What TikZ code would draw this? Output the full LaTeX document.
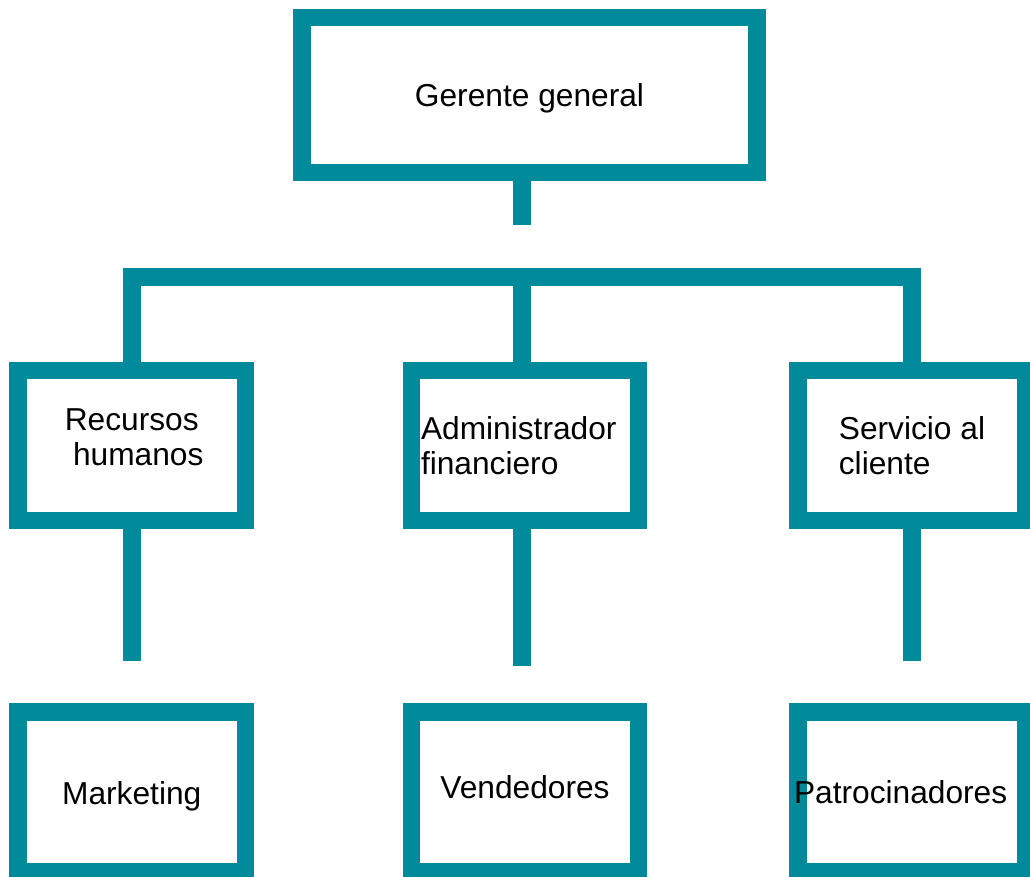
\documentclass[tikz,border=0pt]{standalone}
\usepackage{fontspec}
\setmainfont{Liberation Sans}
\usepackage{xcolor}
\usepackage{tikz}
\usetikzlibrary{calc}
\definecolor{corp}{HTML}{008A9A}
\definecolor{ink}{HTML}{000000}
\definecolor{paper}{HTML}{FFFFFF}
\tikzset{
  unit/.style={draw=corp, line width=17.5pt, inner sep=0pt, text=ink, font=\fontsize{31.7}{35}\selectfont},
  oneline/.style={text height=24pt, text depth=0pt},
  link/.style={draw=corp, line width=17.5pt, line cap=butt, line join=miter},
}

\begin{document}
\begin{tikzpicture}[x=1pt,y=-1pt]
  \fill[paper] (0,0) rectangle (1030,877);
  \useasboundingbox (0,0) rectangle (1030,877);
  \clip (0,0) rectangle (1030,877);
  % boxes
  \node[unit, oneline, minimum width=455pt, minimum height=155pt] (gg) at (529.5,95) {Gerente general};
  \node[unit, minimum width=227.5pt, minimum height=150pt, align=center, text depth=16pt] (rh) at (131.75,445.5) {Recursos\\\hspace*{13pt}humanos};
  \node[unit, minimum width=227pt, minimum height=150pt, text width=208pt, align=left] (af) at (525,445.5) {Administrador\\financiero};
  \node[unit, minimum width=228pt, minimum height=150pt, align=left] (sc) at (912,445.5) {Servicio al\\cliente};
  \node[unit, oneline, minimum width=227.5pt, minimum height=160pt] (mk) at (131.75,792) {Marketing};
  \node[unit, oneline, minimum width=227pt, minimum height=160pt, text height=12pt] (vd) at (525,792) {Vendedores};
  \node[unit, oneline, minimum width=228pt, minimum height=160pt, text width=210pt, align=left, text height=22pt] (pt) at (912,792) {\hspace*{-13pt}Patrocinadores};
  % connectors
  \coordinate (ggend) at (522,225);
  \coordinate (barL) at (132,277);
  \coordinate (barM) at (522,277);
  \coordinate (barR) at (912,277);
  \draw[link] (gg.south -| ggend) -- (ggend);
  \draw[link] (rh.north -| barL) -- (barL) -- (barR) -- (sc.north -| barR);
  \draw[link] (barM) -- (af.north -| barM);
  \coordinate (rhend) at (132,661);
  \coordinate (afend) at (522,666);
  \coordinate (scend) at (912,661);
  \draw[link] (rh.south -| rhend) -- (rhend);
  \draw[link] (af.south -| afend) -- (afend);
  \draw[link] (sc.south -| scend) -- (scend);
\end{tikzpicture}
\end{document}
